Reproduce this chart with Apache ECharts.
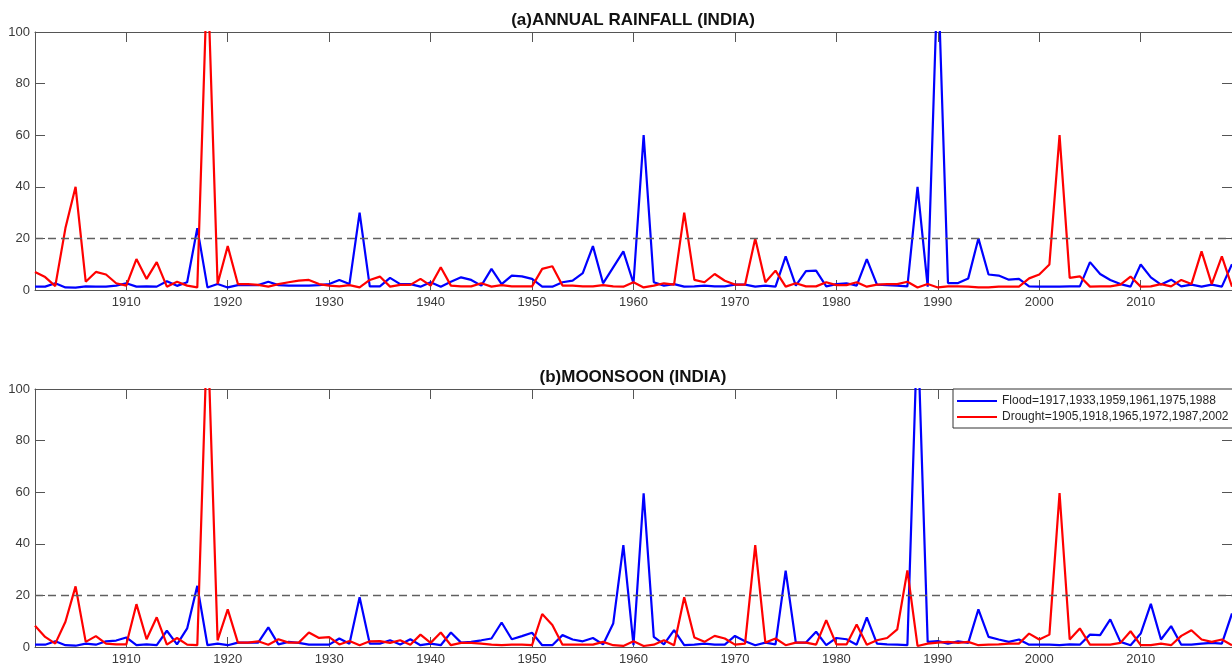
<!DOCTYPE html>
<html>
<head>
<meta charset="utf-8">
<script src="https://cdn.jsdelivr.net/npm/echarts@6/dist/echarts.min.js"></script>
<style>
html,body{margin:0;padding:0;background:#fff;}
#chart{width:1232px;height:669px;}
</style>
</head>
<body>
<div id="chart"></div>
<script>
// Years 1901..2019
const startYear = 1901;
const endYear = 2019;
const years = [];
for (let y = startYear; y <= endYear; y++) years.push(y);

const xTickLabels = [1910, 1920, 1930, 1940, 1950, 1960, 1970, 1980, 1990, 2000, 2010];
const yTicks = [0, 20, 40, 60, 80, 100];
const threshold = 20;

const titleA = '(a)ANNUAL RAINFALL (INDIA)';
const titleB = '(b)MOONSOON (INDIA)';
const floodName = 'Flood=1917,1933,1959,1961,1975,1988';
const droughtName = 'Drought=1905,1918,1965,1972,1987,2002';

// Panel (a) annual rainfall
const annualFlood = [
  1.3,1.3,2.6,1,0.9,1.4,1.3,1.3,1.7,2.6,
  1.3,1.4,1.3,3.4,1.6,3,24,1,2.3,1,
  1.9,1.9,1.9,3.2,1.9,1.7,1.7,1.7,1.9,2.3,
  3.9,2.3,30,1.4,1.4,4.7,2.3,2.3,1.3,3,
  1.3,3.2,4.9,3.9,1.7,8.2,2.3,5.6,5.3,4.3,
  1.3,1.3,3,3.6,6.5,17,2.6,8.8,15,2.6,
  60,3,1.7,2.3,1.3,1.4,1.7,1.4,1.4,2.1,
  2.1,1.3,1.7,1.3,13,1.7,7.3,7.5,1.4,2.3,
  2.6,1.7,12,2.1,1.9,1.7,1.4,40,1.3,125,
  2.7,2.7,4.5,20,6,5.6,4,4.3,1.4,1.3,
  1.3,1.3,1.4,1.4,10.8,6.2,3.9,2.3,1.3,9.9,
  4.9,2.1,4,1.4,2.1,1.3,2.1,1.3,10
];
const annualDrought = [
  7,5,1.5,24,40,3.2,7,6,2.6,1.7,
  12,4.3,10.8,1.3,3.2,1.7,1,125,2.3,17,
  2.3,2.3,2,1.3,2.3,3,3.6,3.9,2.3,1.7,
  1.4,1.9,1,3.9,5.2,1.3,2,2,4.3,1.7,
  8.8,1.7,1.4,1.4,2.6,1.3,1.9,1.4,1.4,1.4,
  8.2,9.2,1.7,1.7,1.4,1.4,1.9,1.4,1.3,3,
  1,1.7,2.6,2.1,30,3.9,3,6.2,3.6,2.1,
  2.1,20,3,7.5,1.3,2.6,1.4,1.4,3,1.9,
  1.9,3,1.3,2.1,2.3,2.3,3.2,1,2.3,1,
  1.4,1.4,1.3,1,1,1.3,1.3,1.3,4.5,6,
  9.9,60,4.7,5.3,1.3,1.4,1.4,2.1,5.2,1.3,
  1.4,2.3,1.4,3.9,2.3,15,2.3,13,1.3
];

// Panel (b) monsoon
const monsoonFlood = [
  0.9,0.9,2.2,0.7,0.5,1.3,0.9,2.2,2.5,3.7,
  0.7,1,0.7,6.3,1,7.2,23.7,0.7,1.3,0.7,
  1.7,1.7,1.7,7.6,1,2,1.6,0.9,0.9,0.9,
  3.3,1.3,19.3,1.3,1.3,2.6,1,3,0.7,1.3,
  0.7,5.6,1.7,2,2.6,3.3,9.5,3,4.2,5.5,
  0.7,0.7,4.6,2.9,2.2,3.5,1,9.1,39.5,0.7,
  59.6,3.9,1,6.5,0.7,0.9,1.3,0.9,0.9,4.3,
  2.2,0.7,1.7,1,29.6,1.7,1.7,5.9,0.7,3.5,
  3,0.9,11.5,1.3,1,0.9,0.7,125,2,2.3,
  1.3,2.2,1.6,14.6,3.9,2.9,2,2.9,0.9,0.9,
  0.9,0.7,1,0.9,4.8,4.6,10.7,2,0.7,5.2,
  16.7,2.9,8.1,0.9,0.9,1.3,1.6,1.3,13
];
const monsoonDrought = [
  8.2,3.9,1.3,9.8,23.5,2,4.2,1.3,1,1,
  16.6,3,11.5,0.9,3.5,0.9,0.7,125,2.6,14.6,
  1.7,1.7,2.2,0.9,3,1.7,1.7,5.6,3.5,3.8,
  1,2.3,0.7,2.2,2.3,1.6,2.6,0.9,4.8,1.6,
  5.6,0.7,1.6,1.6,1.3,0.9,0.7,0.9,0.9,0.7,
  12.8,8.5,0.9,0.9,0.9,0.9,2,0.7,0.4,2.2,
  0.4,0.9,2.6,0.7,19.3,3.7,2,4.3,3.3,0.9,
  1.3,39.5,1.7,3.3,0.7,1.7,1.7,0.9,10.4,1,
  1,8.7,0.9,2.6,3.5,6.8,29.7,0.4,1.3,1.7,
  2,1.6,2,0.7,0.9,1,1.3,1.3,5.2,2.9,
  4.8,59.7,2.9,7.2,0.9,0.9,0.9,1.6,6.1,0.7,
  0.7,1.3,0.7,4.3,6.5,2.9,2,2.9,0.7
];

const FONT = "'Liberation Sans', Arial, Helvetica, sans-serif";
const AXC = '#555555';
const LBC = '#3a3a3a';
const BLUE = '#0000ff';
const RED = '#ff0000';

function pairs(vals) { return years.map((y, i) => [y, vals[i]]); }

const grids = [
  { left: 35, top: 32, width: 1197, height: 258 },
  { left: 35, top: 389, width: 1197, height: 258 }
];

function xAxes(gi) {
  return [
    {
      type: 'value', gridIndex: gi, position: 'bottom', min: startYear, max: endYear,
      splitLine: { show: false },
      axisLine: { show: true, onZero: false, lineStyle: { color: AXC, width: 1 } },
      axisTick: { show: true, inside: true, length: 10, customValues: xTickLabels, lineStyle: { color: AXC } },
      axisLabel: { show: true, customValues: xTickLabels, color: LBC, fontSize: 13, fontFamily: FONT, margin: 6,
        formatter: function (v) { return String(v); } }
    },
    {
      type: 'value', gridIndex: gi, position: 'top', min: startYear, max: endYear,
      splitLine: { show: false },
      axisLine: { show: true, onZero: false, lineStyle: { color: AXC, width: 1 } },
      axisTick: { show: true, inside: true, length: 10, customValues: xTickLabels, lineStyle: { color: AXC } },
      axisLabel: { show: false, customValues: xTickLabels }
    }
  ];
}
function yAxes(gi) {
  return [
    {
      type: 'value', gridIndex: gi, position: 'left', min: 0, max: 100, interval: 20,
      splitLine: { show: false },
      axisLine: { show: true, onZero: false, lineStyle: { color: AXC, width: 1 } },
      axisTick: { show: true, inside: true, length: 10, lineStyle: { color: AXC } },
      axisLabel: { show: true, color: LBC, fontSize: 13, fontFamily: FONT, margin: 5 }
    },
    {
      type: 'value', gridIndex: gi, position: 'right', min: 0, max: 100, interval: 20,
      splitLine: { show: false },
      axisLine: { show: true, onZero: false, lineStyle: { color: AXC, width: 1 } },
      axisTick: { show: true, inside: true, length: 10, lineStyle: { color: AXC } },
      axisLabel: { show: false }
    }
  ];
}

const thresholdLine = {
  silent: true,
  symbol: ['none', 'none'],
  label: { show: false },
  lineStyle: { color: '#606060', width: 1.3, type: [8, 5] },
  data: [{ yAxis: threshold }]
};

function lineSeries(name, vals, color, xi, yi, withMark) {
  const s = {
    name: name, type: 'line', xAxisIndex: xi, yAxisIndex: yi,
    data: pairs(vals), symbol: 'none', showSymbol: false, clip: true,
    lineStyle: { color: color, width: 2.2 }, itemStyle: { color: color },
    animation: false
  };
  if (withMark) s.markLine = thresholdLine;
  return s;
}

const option = {
  animation: false,
  backgroundColor: '#ffffff',
  title: [
    { text: titleA, left: 633, top: 12, padding: 0, textAlign: 'center',
      textStyle: { fontSize: 17, fontWeight: 'bold', color: '#111', fontFamily: FONT } },
    { text: titleB, left: 633, top: 369, padding: 0, textAlign: 'center',
      textStyle: { fontSize: 17, fontWeight: 'bold', color: '#111', fontFamily: FONT } }
  ],
  legend: {
    data: [
      { name: floodName, icon: 'rect', itemStyle: { color: BLUE } },
      { name: droughtName, icon: 'rect', itemStyle: { color: RED } }
    ],
    orient: 'vertical', left: 953, top: 389,
    padding: [6, 8, 5, 4], itemGap: 4, itemWidth: 40, itemHeight: 2,
    backgroundColor: '#fff', borderColor: '#333', borderWidth: 1,
    textStyle: { fontSize: 12, lineHeight: 12, color: '#262626', fontFamily: FONT },
    selectedMode: false
  },
  grid: grids,
  xAxis: [...xAxes(0), ...xAxes(1)],
  yAxis: [...yAxes(0), ...yAxes(1)],
  series: [
    lineSeries('Annual Flood', annualFlood, BLUE, 0, 0, true),
    lineSeries('Annual Drought', annualDrought, RED, 0, 0, false),
    lineSeries(floodName, monsoonFlood, BLUE, 2, 2, true),
    lineSeries(droughtName, monsoonDrought, RED, 2, 2, false)
  ]
};

const chart = echarts.init(document.getElementById('chart'), null, { renderer: 'canvas' });
chart.setOption(option);
</script>
</body>
</html>
